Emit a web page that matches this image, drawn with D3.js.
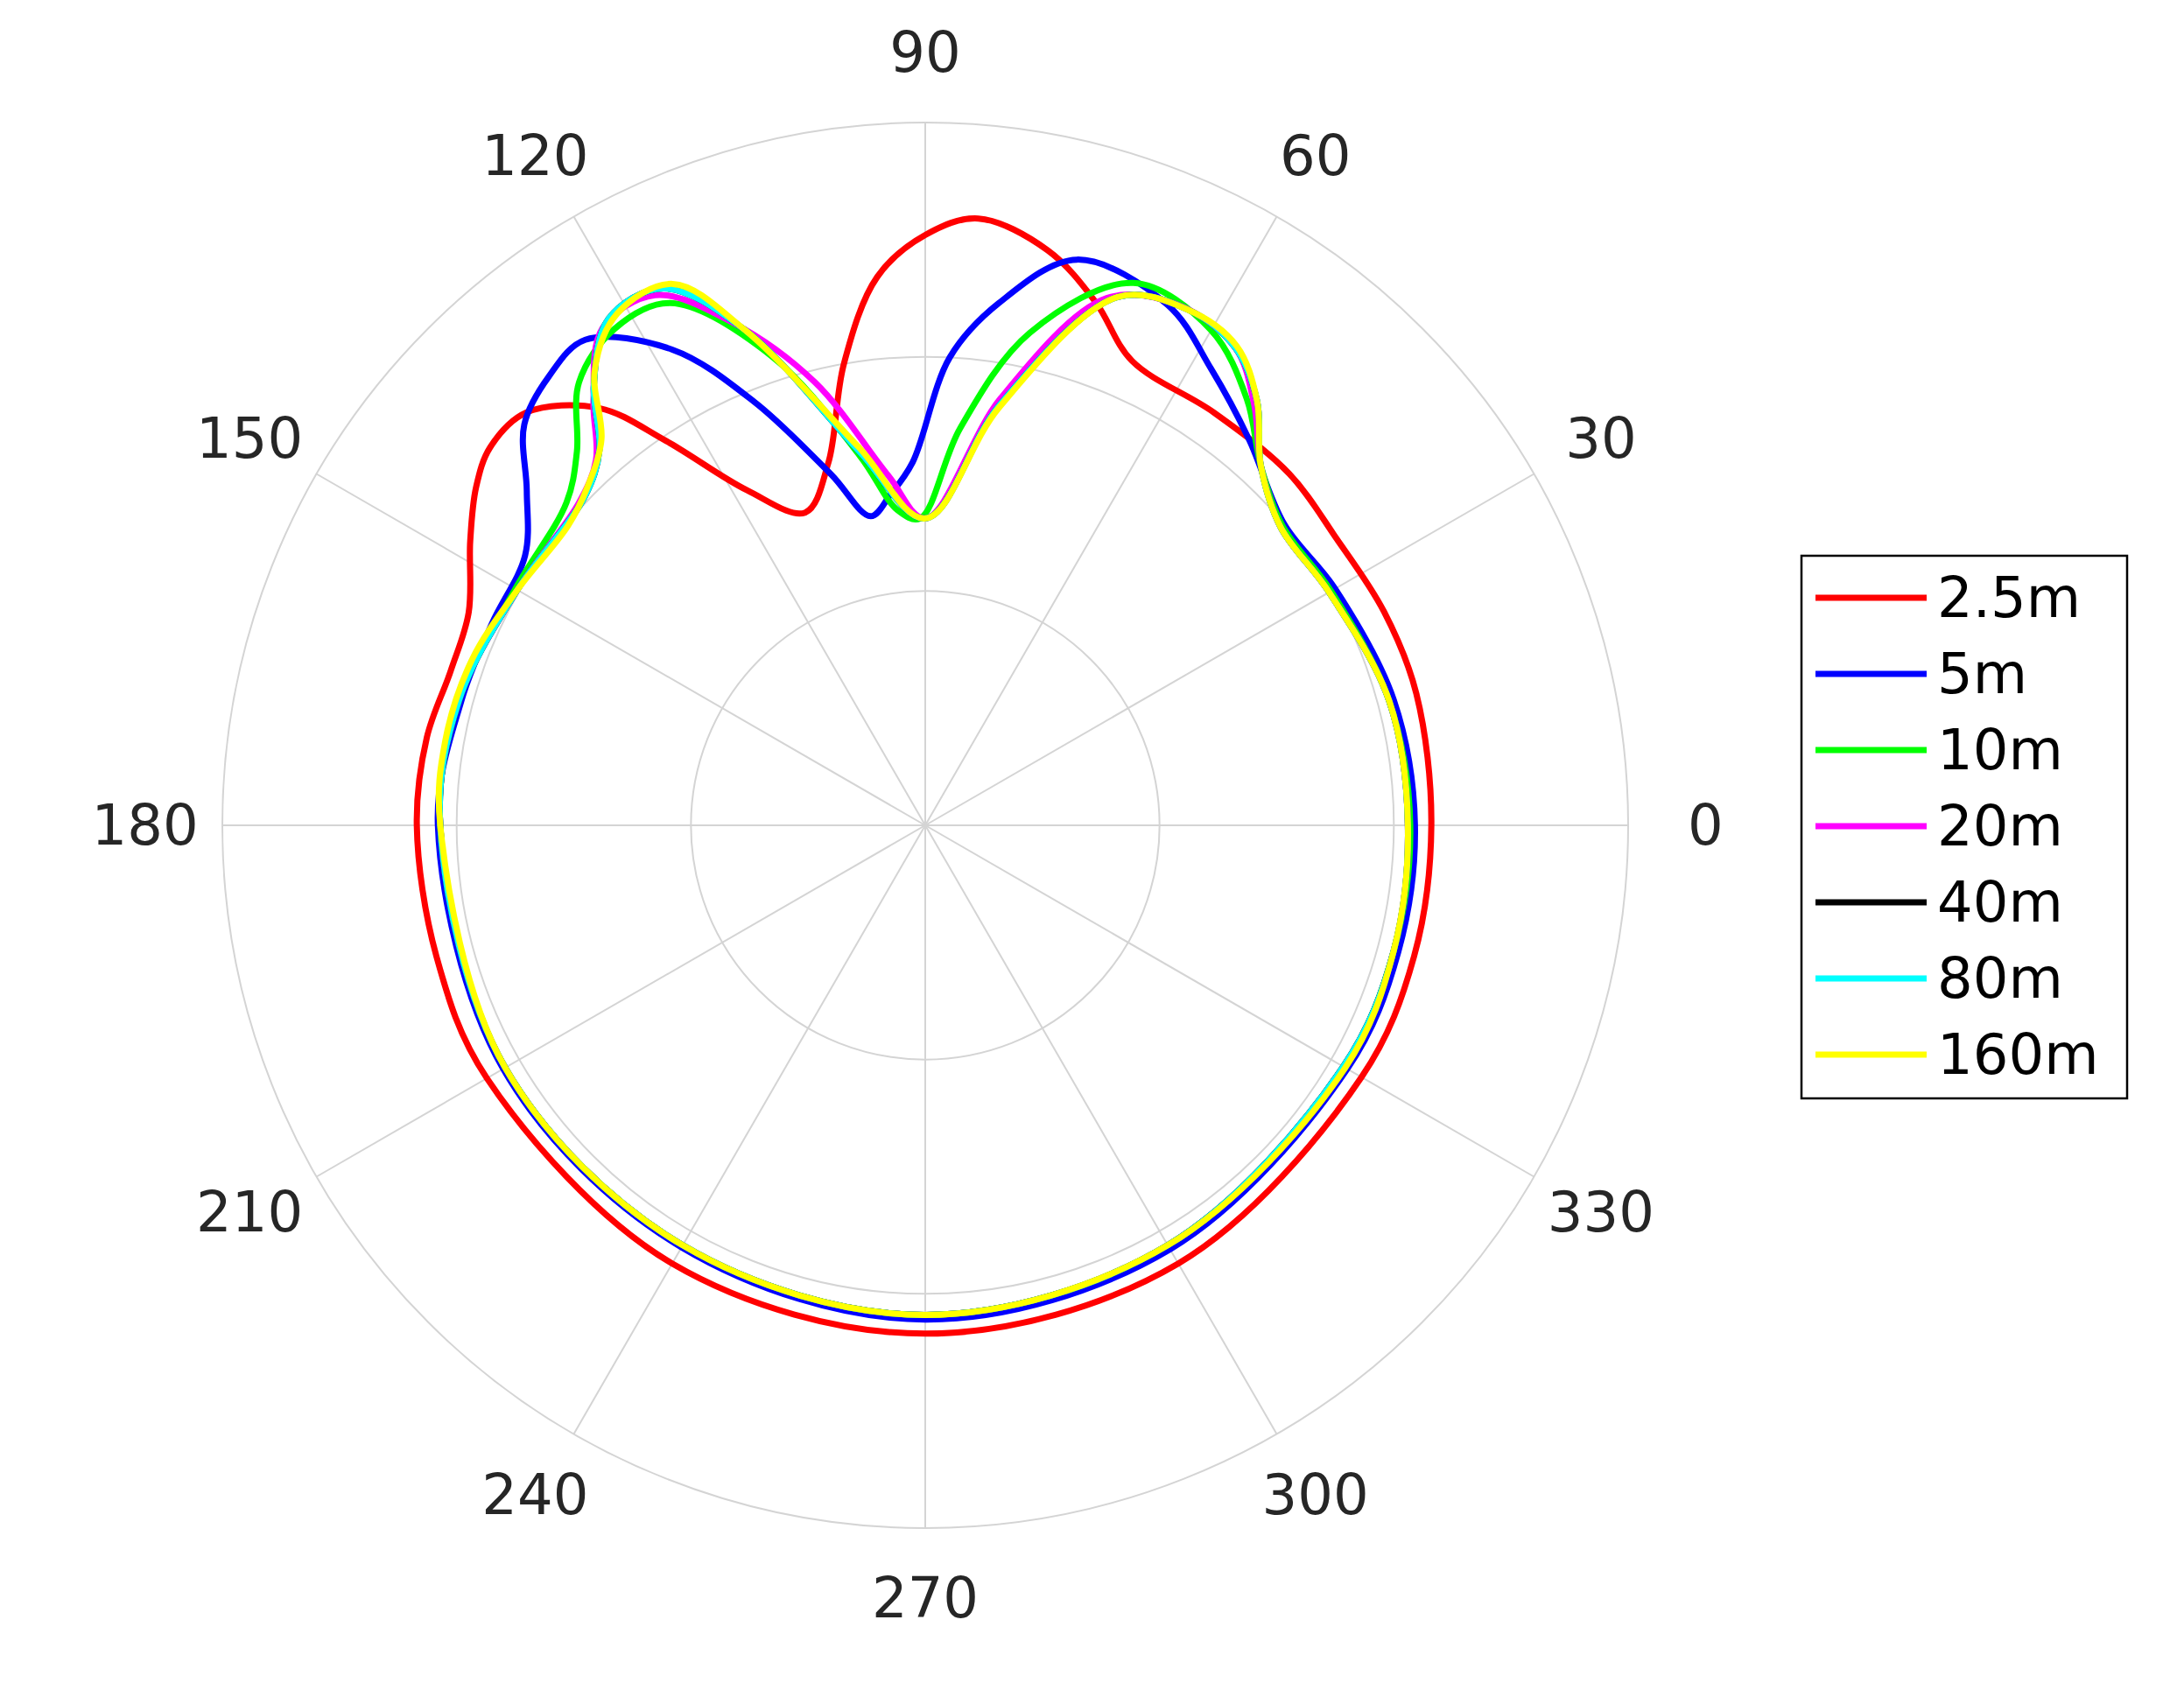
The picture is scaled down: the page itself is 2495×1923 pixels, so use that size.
<!DOCTYPE html>
<html><head><meta charset="utf-8">
<script src="https://cdn.jsdelivr.net/npm/d3@7"></script>
<style>body{margin:0;background:#fff}</style></head>
<body><svg id="chart" width="2495" height="1923"></svg>
<script>
// angle (deg) / radius readings per series
var names = ["2.5m","5m","10m","20m","40m","80m","160m"];
var colors = ["#ff0000","#0000ff","#00ff00","#ff00ff","#000000","#00ffff","#ffff00"];
var angleTicks = [0,30,60,90,120,150,180,210,240,270,300,330];
var rTicks = [1,2,3];

var red = [[0,2.16],[15,2.17],[25,2.16],[35,2.14],[44,2.16],[55,2.15],[66,2.17],[72,2.35],[78,2.51],[85,2.6],[90,2.52],[95,2.35],[100,2.0],[105,1.6],[111,1.43],[118,1.62],[124,1.98],[128,2.26],[134,2.45],[139,2.46],[143,2.4],[148,2.29],[155,2.15],[162,2.13],[170,2.16],[180,2.17],[195,2.16],[210,2.16],[240,2.16],[270,2.17],[300,2.16],[330,2.15],[345,2.16]];
var blue = [[0,2.09],[15,2.07],[30,2.02],[40,2.0],[50,2.15],[58,2.3],[65,2.45],[75,2.5],[82,2.25],[87,2.0],[92,1.55],[96,1.42],[100,1.34],[105,1.55],[112,1.95],[118,2.3],[125,2.53],[130,2.5],[135,2.42],[140,2.22],[146,2.06],[155,2.04],[165,2.05],[180,2.08],[210,2.08],[240,2.08],[270,2.11],[300,2.09],[330,2.08],[345,2.09]];
var green = [[0,2.07],[15,2.05],[30,2.0],[40,1.99],[47,2.1],[53,2.28],[60,2.44],[69,2.48],[78,2.15],[85,1.7],[91,1.31],[95,1.35],[100,1.6],[108,2.1],[116,2.48],[122,2.5],[128,2.4],[133,2.18],[138,2.06],[150,2.02],[165,2.06],[180,2.07],[210,2.07],[240,2.07],[270,2.09],[300,2.07],[330,2.06],[345,2.07]];
var magenta = [[0,2.06],[15,2.05],[30,1.99],[40,1.98],[47,2.1],[52,2.28],[57,2.43],[64,2.47],[71,2.38],[80,1.85],[90,1.31],[96,1.5],[104,1.95],[111,2.3],[117,2.54],[123,2.53],[128,2.3],[132,2.1],[137,2.02],[150,2.01],[165,2.06],[180,2.07],[210,2.07],[240,2.07],[270,2.09],[300,2.07],[330,2.06],[345,2.07]];
var black = [[0,2.06],[15,2.05],[30,1.99],[40,1.98],[47,2.1],[52,2.3],[57,2.43],[63,2.47],[70,2.4],[80,1.82],[90,1.31],[100,1.62],[110,2.25],[116,2.55],[122,2.55],[127,2.35],[131,2.12],[136,2.02],[150,2.01],[165,2.06],[180,2.07],[210,2.07],[240,2.07],[270,2.09],[300,2.07],[330,2.06],[345,2.07]];
var cyan = black;
var yellow = [[0,2.06],[15,2.05],[30,1.99],[40,1.98],[47,2.1],[52,2.3],[57,2.44],[63,2.47],[70,2.4],[80,1.81],[90,1.31],[100,1.64],[110,2.25],[115,2.55],[121,2.55],[126,2.4],[130,2.15],[135,2.04],[140,1.99],[150,2.01],[160,2.06],[170,2.08],[180,2.07],[210,2.07],[240,2.07],[270,2.09],[300,2.07],[330,2.07],[345,2.07]];
var series = [red,blue,green,magenta,black,cyan,yellow];

var svg = d3.select("#chart");
var cx = 1057, cy = 943, R = 803;
var r = d3.scaleLinear().domain([0,3]).range([0,R]);
var g = svg.append("g").attr("transform","translate("+cx+","+cy+")");

g.selectAll(".ring").data(rTicks).enter().append("circle")
	.attr("r",function(d){ return r(d); })
	.attr("fill","none").attr("stroke","#d4d4d4").attr("stroke-width",2);
g.selectAll(".spoke").data(angleTicks).enter().append("line")
	.attr("x2",function(d){ return R*Math.cos(d*Math.PI/180); })
	.attr("y2",function(d){ return -R*Math.sin(d*Math.PI/180); })
	.attr("stroke","#d4d4d4").attr("stroke-width",2);
g.selectAll(".alab").data(angleTicks).enter().append("text")
	.attr("x",function(d){ return R*1.11*Math.cos(d*Math.PI/180); })
	.attr("y",function(d){ return -R*1.1*Math.sin(d*Math.PI/180); })
	.attr("text-anchor","middle").attr("dominant-baseline","central")
	.attr("font-family","DejaVu Sans").attr("font-size",64).attr("fill","#262626")
	.text(function(d){ return d; });

var line = d3.lineRadial()
	.angle(function(d){ return Math.PI/2 - d[0]*Math.PI/180; })
	.radius(function(d){ return r(d[1]); })
	.curve(d3.curveCatmullRomClosed);
series.forEach(function(s,i){
	g.append("path").attr("d",line(s)).attr("fill","none")
		.attr("stroke",colors[i]).attr("stroke-width",7);
});

// legend
var lg = svg.append("g").attr("transform","translate(2058,635)");
lg.append("rect").attr("width",372).attr("height",620).attr("fill","#fff").attr("stroke","#000").attr("stroke-width",2.5);
names.forEach(function(n,i){
	var y = 48 + i*87;
	lg.append("line").attr("x1",16).attr("x2",143).attr("y1",y).attr("y2",y)
		.attr("stroke",colors[i]).attr("stroke-width",7);
	lg.append("text").attr("x",155).attr("y",y).attr("dominant-baseline","central")
		.attr("font-family","DejaVu Sans").attr("font-size",64).attr("fill","#000").text(n);
});
</script></body></html>
